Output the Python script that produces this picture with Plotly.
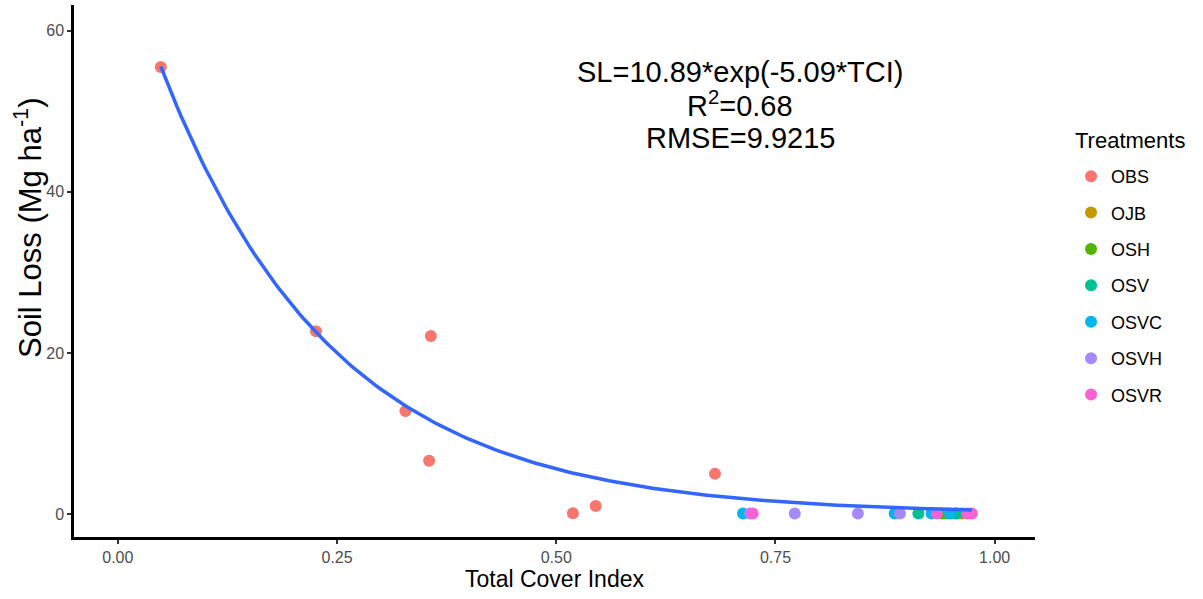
import numpy as np
import plotly.graph_objects as go

# Observations by treatment: total cover index (TCI) and soil loss (Mg/ha)
treatments = ["OBS", "OJB", "OSH", "OSV", "OSVC", "OSVH", "OSVR"]
colors = ["#F8766D", "#C49A00", "#53B400", "#00C094", "#00B6EB", "#A58AFF", "#FB61D7"]

tci = {
    "OBS": [0.049, 0.226, 0.357, 0.328, 0.355, 0.519, 0.545, 0.681],
    "OJB": [0.955, 0.963],
    "OSH": [0.940, 0.945],
    "OSV": [0.913, 0.957],
    "OSVC": [0.713, 0.886, 0.928, 0.949],
    "OSVH": [0.721, 0.772, 0.844, 0.892],
    "OSVR": [0.724, 0.934, 0.969, 0.974],
}
soil_loss = {
    "OBS": [55.5, 22.7, 22.1, 12.8, 6.6, 0.1, 1.0, 5.0],
    "OJB": [0.05, 0.05],
    "OSH": [0.05, 0.05],
    "OSV": [0.05, 0.05],
    "OSVC": [0.05, 0.05, 0.05, 0.05],
    "OSVH": [0.05, 0.05, 0.05, 0.05],
    "OSVR": [0.05, 0.05, 0.05, 0.05],
}

# Exponential decay fit curve parameters
fit_amplitude = 71.3
fit_rate = 5.09

# Fit statistics shown on the chart
fit_lines = ["SL=10.89*exp(-5.09*TCI)", "R<sup>2</sup>=0.68", "RMSE=9.9215"]

fig = go.Figure()

for name, col in zip(treatments, colors):
    fig.add_trace(go.Scatter(
        x=tci[name], y=soil_loss[name], mode="markers", name=name,
        legendgroup=name,
        marker=dict(color=col, size=12, line=dict(width=0)),
    ))

# fitted line drawn over the points
all_x = np.concatenate([tci[t] for t in treatments])
xs = np.linspace(all_x.min(), all_x.max(), 200)
fig.add_trace(go.Scatter(
    x=xs, y=fit_amplitude * np.exp(-fit_rate * xs),
    mode="lines", line=dict(color="#3366FF", width=3.5),
    showlegend=False, hoverinfo="skip",
))

base = "Liberation Sans, Arial, sans-serif"
tick_font = dict(family=base, size=16, color="#4D4D4D")

# plot area in pixels: left 74, right 1035, top 5, bottom 537
def px_x(p):
    return (p - 74) / 961

def px_y(p):
    return (537 - p) / 532

annotations = [
    dict(
        text=line, x=px_x(740), y=px_y(cy), xref="paper", yref="paper",
        xanchor="center", yanchor="middle", showarrow=False,
        font=dict(size=29, color="black"),
    )
    for line, cy in zip(fit_lines, [72, 104, 138])
]
annotations += [
    dict(
        text="Soil Loss (Mg ha<sup>-1</sup>)", textangle=-90,
        x=px_x(28), y=px_y(228), xref="paper", yref="paper",
        xanchor="center", yanchor="middle", showarrow=False,
        font=dict(size=31, color="black"),
    ),
    dict(
        text="Treatments",
        x=px_x(1073), y=px_y(140), xref="paper", yref="paper",
        xanchor="left", yanchor="middle", showarrow=False,
        font=dict(size=22, color="black"),
    ),
]

fig.update_layout(
    width=1203, height=599,
    margin=dict(l=74, r=168, t=5, b=62, autoexpand=False),
    paper_bgcolor="white", plot_bgcolor="white",
    font=dict(family=base, color="black"),
    xaxis=dict(
        range=[-0.05, 1.046], tickvals=[0, 0.25, 0.5, 0.75, 1.0],
        ticktext=["0.00", "0.25", "0.50", "0.75", "1.00"],
        showgrid=False, zeroline=False, showline=True, linecolor="black", linewidth=2.5,
        ticks="outside", ticklen=4, tickcolor="#333333", tickwidth=1.5,
        tickfont=tick_font,
        title=dict(text="Total Cover Index", font=dict(size=23, family=base), standoff=6),
    ),
    yaxis=dict(
        range=[-2.86, 63.2], tickvals=[0, 20, 40, 60],
        showgrid=False, zeroline=False, showline=True, linecolor="black", linewidth=2.5,
        ticks="outside", ticklen=4, tickcolor="#333333", tickwidth=1.5,
        tickfont=tick_font,
    ),
    legend=dict(
        font=dict(size=18), x=1.0375, xanchor="left", y=0.7125, yanchor="top",
        tracegroupgap=10, itemsizing="constant",
    ),
    annotations=annotations,
)

fig.write_html("out.html")
